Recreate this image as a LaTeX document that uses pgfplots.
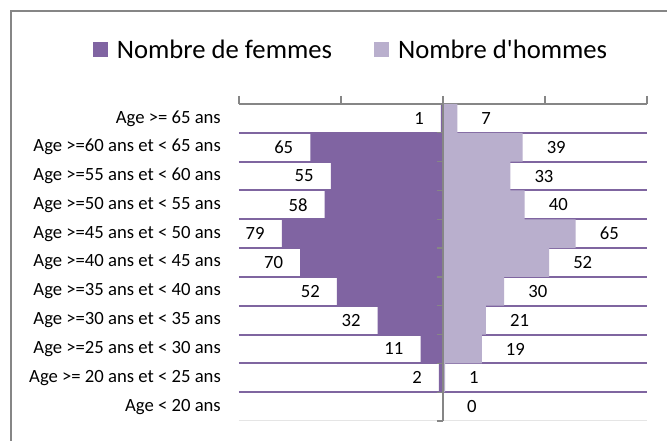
\documentclass[border=0pt]{standalone}
\usepackage{pgfplots}
\pgfplotsset{compat=1.18}
\usepackage{fontspec}
\setmainfont{Carlito}
\definecolor{fem}{HTML}{8064A2}
\definecolor{hom}{HTML}{B9AFCD}
\definecolor{sep}{HTML}{7F65A0}
\definecolor{axgray}{HTML}{868686}
\begin{document}
\begin{tikzpicture}[x=1pt,y=1pt]
\useasboundingbox (0,0) rectangle (667,441);
\clip (0,0) rectangle (667,441);
\fill[white] (0,0) rectangle (667,441);
\draw[axgray, line width=1.3pt] (11,-10) -- (11,430) -- (690,430);
\begin{axis}[
  at={(239pt,20pt)}, anchor=south west,
  scale only axis, width=408pt, height=317pt,
  xmin=-100, xmax=100, ymin=-0.5, ymax=10.5,
  axis x line*=top, axis y line*=left,
  y axis line style={draw=none},
  x axis line style={axgray, line width=1.2pt},
  xtick={-100,-50,0,50,100}, xticklabels={},
  tick align=outside,
  xtick style={axgray, line width=1.2pt},
  major tick length=8pt,
  ytick={0,...,10},
  yticklabels={Age < 20 ans, Age >= 20 ans et < 25 ans, Age >=25 ans et < 30 ans, Age >=30 ans et < 35 ans, Age >=35 ans et < 40 ans, Age >=40 ans et < 45 ans, Age >=45 ans et < 50 ans, Age >=50 ans et < 55 ans, Age >=55 ans et < 60 ans, Age >=60 ans et < 65 ans, Age >= 65 ans},
  ytick style={draw=none},
  yticklabel style={font=\fontsize{18.67}{22}\selectfont, anchor=east, inner sep=0pt, xshift=-10pt},
  xbar, bar width=1,
  point meta=explicit,
  /pgf/number format/assume math mode=true,
  legend columns=2,
  legend style={at={(0.2745,1.1705)}, anchor=center, draw=none, fill=none,
    font=\fontsize{26.67}{32}\selectfont,
    /tikz/every even column/.style={column sep=40pt}},
  legend image code/.code={\fill[#1] (0pt,-7.5pt) rectangle (15pt,7.5pt); \path (22pt,0pt);},
  clip=false,
]
\draw[gray!20, line width=1pt] (axis cs:-100,-0.5) -- (axis cs:100,-0.5);
\pgfplotsinvokeforeach{0.5,1.5,...,9.5}{\draw[sep, line width=2pt] (axis cs:-100,#1) -- (axis cs:100,#1);}
\addplot[fill=fem, draw=none, bar shift=0pt,
  nodes near coords,
  every node near coord/.append style={font=\fontsize{18.67}{22}\selectfont, text=black, inner sep=0pt, anchor=east, xshift=-17pt}]
  coordinates {(-1,10)[1] (-65,9)[65] (-55,8)[55] (-58,7)[58] (-79,6)[79] (-70,5)[70] (-52,4)[52] (-32,3)[32] (-11,2)[11] (-2,1)[2]};
\addlegendentry{Nombre de femmes}
\addplot[fill=hom, draw=none, bar shift=0pt,
  nodes near coords,
  every node near coord/.append style={font=\fontsize{18.67}{22}\selectfont, text=black, inner sep=0pt, anchor=west, xshift=24pt}]
  coordinates {(7,10)[7] (39,9)[39] (33,8)[33] (40,7)[40] (65,6)[65] (52,5)[52] (30,4)[30] (21,3)[21] (19,2)[19] (1,1)[1] (0,0)[0]};
\addlegendentry{Nombre d\textquotesingle hommes}
\draw[axgray, line width=1.5pt] (axis cs:0,-0.5) -- (axis cs:0,10.5);
\pgfplotsinvokeforeach{-0.5,0.5,...,10.5}{\draw[axgray, line width=1.2pt] (axis cs:0,#1) -- (axis cs:-3,#1);}
\end{axis}
\end{tikzpicture}
\end{document}
